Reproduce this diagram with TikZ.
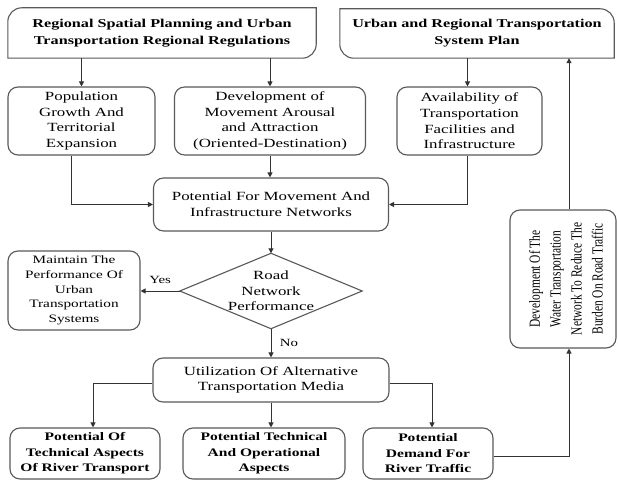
\documentclass[tikz,border=0pt]{standalone}
\usepackage{fontspec}
\setmainfont{Liberation Serif}[FakeStretch=1.35]
\newfontfamily\vfont{Liberation Serif}
\usepackage{graphicx}
\usetikzlibrary{arrows.meta,calc}
\begin{document}
\begin{tikzpicture}[x=1pt,y=1pt,
  boxline/.style={draw=black!65, line width=1.1pt},
  box/.style={boxline, rounded corners=10pt, align=center, inner sep=0pt, fill=white},
  plain/.style={draw=none, align=center, inner sep=0pt},
  txt/.style={font=\fontsize{12.5}{15.7}\selectfont},
  smalltxt/.style={font=\fontsize{11.3}{14.7}\selectfont},
  toptxt/.style={font=\fontsize{12}{17}\selectfont\bfseries},
  bold/.style={font=\fontsize{11.5}{15.5}\selectfont\bfseries},
  arr/.style={draw=black!80, line width=1pt, -{Triangle[length=5pt,width=5pt]}},
]
\useasboundingbox (0,0) rectangle (618,-481);
\fill[white] (0,0) rectangle (618,-481);

% top boxes
\node[plain, toptxt, minimum width=308, minimum height=50] (b1) at (162,-33)
  {Regional Spatial Planning and Urban\\Transportation Regional Regulations};
\draw[boxline] (b1.south west) -- ([yshift=-14]b1.north west)
  arc[start angle=180,end angle=90,radius=14] -- (b1.north east)
  -- ([yshift=14]b1.south east) arc[start angle=0,end angle=-90,radius=14] -- cycle;

\node[plain, toptxt, minimum width=274, minimum height=49] (b2) at (477,-33.5)
  {Urban and Regional Transportation\\System Plan};
\draw[boxline] (b2.north west) -- ([xshift=-14]b2.north east)
  arc[start angle=90,end angle=0,radius=14] -- (b2.south east)
  -- ([xshift=14]b2.south west) arc[start angle=270,end angle=180,radius=14] -- cycle;

% second row
\node[box, txt, minimum width=147, minimum height=68] (Pop) at (81.5,-121)
  {Population\\Growth And\\Territorial\\Expansion};
\node[box, txt, minimum width=191, minimum height=68] (Dev) at (270,-121)
  {Development of\\Movement Arousal\\and Attraction\\(Oriented-Destination)};
\node[box, txt, minimum width=145, minimum height=68] (Av) at (469.5,-121)
  {Availability of\\Transportation\\Facilities and\\Infrastructure};

% potential
\node[box, txt, minimum width=235, minimum height=53] (Pot) at (271,-204.5)
  {Potential For Movement And\\Infrastructure Networks};

% diamond
\node[plain, minimum width=182, minimum height=75] (Dia) at (271,-291) {};
\draw[boxline, fill=white] (Dia.north) -- (Dia.east) -- (Dia.south) -- (Dia.west) -- cycle;
\node[plain, txt] (DiaT) at (Dia.center) {Road\\Network\\Performance};

\node[box, smalltxt, minimum width=132, minimum height=79] (Main) at (74,-290.5)
  {Maintain The\\Performance Of\\Urban\\Transportation\\Systems};

% utilization
\node[box, txt, minimum width=236, minimum height=44] (Util) at (271,-380)
  {Utilization Of Alternative\\Transportation Media};

% bottom row
\node[box, bold, minimum width=150, minimum height=51] (A) at (85,-453.5)
  {Potential Of\\Technical Aspects\\Of River Transport};
\node[box, bold, minimum width=162, minimum height=51] (B) at (264,-453.5)
  {Potential Technical\\And Operational\\Aspects};
\node[box, bold, minimum width=130, minimum height=51] (C) at (428,-453.5)
  {Potential\\Demand For\\River Traffic};

% vertical box
\node[box, minimum width=106, minimum height=138] (W) at (563,-279) {};
\node[plain] (WT) at ([xshift=4]W.center)
  {\scalebox{1.35}[1]{\rotatebox{90}{\vfont\fontsize{11.4}{15.5}\selectfont
   \begin{tabular}{@{}c@{}}Development Of The\\Water Transportation\\Network To Reduce The\\Burden On Road Traffic\end{tabular}}}};

% connectors
\draw[arr] (b1.south -| Pop.north) -- (Pop.north);
\draw[arr] (b1.south -| Dev.north) -- (Dev.north);
\draw[arr] ([xshift=-2]b2.south -| Av.north) -- ([xshift=-2]Av.north);
\draw[arr] ([xshift=-10]Pop.south) |- (Pot.west);
\draw[arr] ([xshift=-2]Av.south) |- (Pot.east);
\draw[arr] (Dev.south) -- (Dev.south |- Pot.north);
\draw[arr] (Pot.south) -- (Dia.north);
\draw[arr] (Dia.west) -- (Dia.west -| Main.east) node[midway, above=4pt, font=\fontsize{11}{13}\selectfont] (yes) {Yes};
\draw[arr] (Dia.south) -- (Dia.south |- Util.north) node[midway, right=5pt, font=\fontsize{11}{13}\selectfont] (no) {No};
\draw[arr] ([yshift=-3]Util.west) -| ([xshift=8]A.north);
\draw[arr] (Util.south) -- (Util.south |- B.north);
\draw[arr] ([yshift=-3]Util.east) -| ([xshift=4]C.north);
\draw[arr] ([yshift=-3]C.east) -| ([xshift=6]W.south);
\draw[arr] ([xshift=6]W.north) -- ([xshift=6]W.north |- b2.south);
\end{tikzpicture}
\end{document}
